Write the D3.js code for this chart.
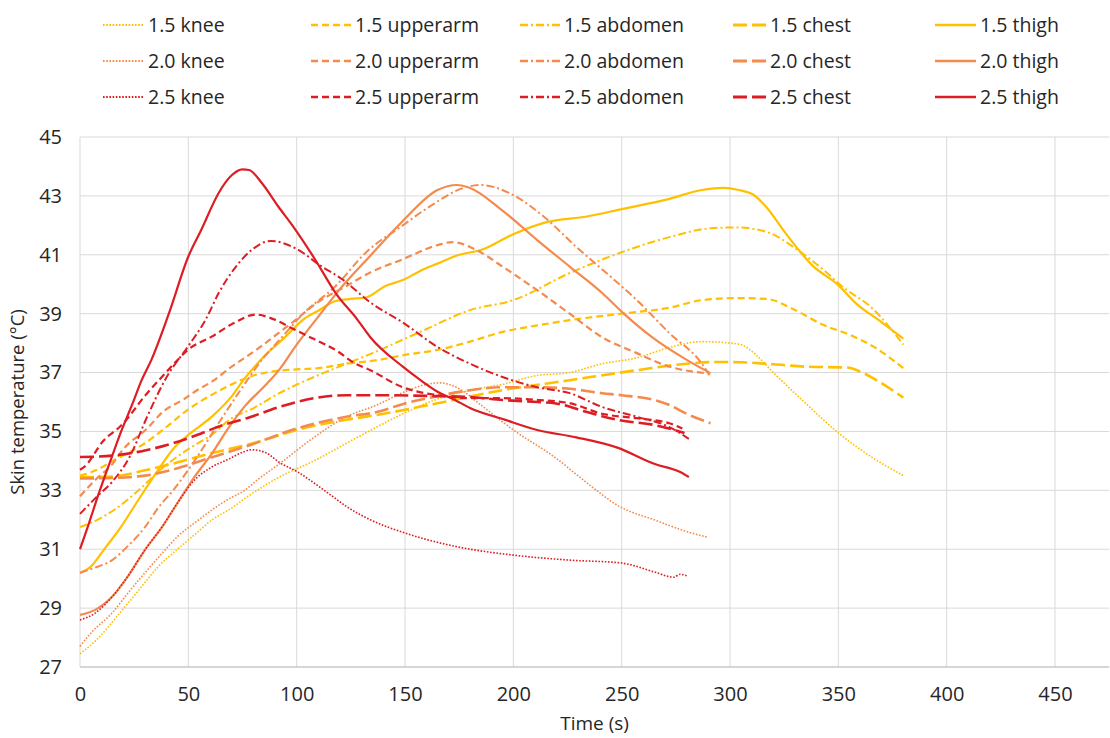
<!DOCTYPE html>
<html>
<head>
<meta charset="utf-8">
<script src="https://cdn.jsdelivr.net/npm/d3@7"></script>
<style>
  html, body { margin: 0; padding: 0; background: #fff; }
  svg { display: block; font-family: "Open Sans", "Noto Sans", sans-serif; }
</style>
</head>
<body>
<svg id="chart" width="1110" height="738"></svg>
<script>
// ---------- data (time s, skin temperature °C) ----------
const knee15 = [[0,27.45],[8,27.95],[18,28.8],[27,29.6],[36,30.4],[45,31.0],[53,31.5],[61,32.0],[70,32.4],[77,32.77],[92,33.45],[108,34.0],[123,34.6],[137,35.15],[149,35.6],[165,36.1],[180,36.4],[195,36.6],[211,36.9],[226,37.0],[241,37.3],[257,37.5],[272,37.85],[287,38.05],[300,38.0],[305,37.95],[312,37.6],[320,37.0],[335,35.95],[350,34.95],[366,34.1],[380,33.5]];
const knee20 = [[0,27.7],[5,28.15],[15,28.85],[22,29.5],[30,30.2],[38,30.87],[45,31.43],[53,31.9],[61,32.34],[68,32.68],[76,33.0],[82,33.36],[92,33.9],[108,34.8],[123,35.5],[137,35.9],[150,36.35],[160,36.6],[166,36.65],[175,36.45],[185,35.9],[200,35.05],[219,34.13],[234,33.25],[249,32.45],[265,32.0],[280,31.6],[290,31.4]];
const knee25 = [[0,28.6],[7,28.83],[15,29.4],[22,30.07],[30,30.98],[38,31.77],[45,32.57],[53,33.36],[61,33.8],[68,34.04],[76,34.32],[79,34.38],[86,34.27],[92,33.95],[101,33.6],[108,33.25],[117,32.77],[123,32.45],[134,32.0],[150,31.55],[173,31.1],[200,30.8],[226,30.63],[250,30.53],[265,30.23],[274,30.05],[277,30.15],[280,30.1]];

const upperarm15 = [[0,33.5],[8,33.7],[15,34.0],[23,34.3],[30,34.6],[39,35.1],[50,35.75],[61,36.25],[70,36.6],[80,36.9],[90,37.05],[98,37.1],[110,37.15],[123,37.3],[137,37.42],[150,37.6],[165,37.77],[180,38.05],[195,38.38],[211,38.6],[226,38.78],[250,39.0],[272,39.2],[287,39.46],[303,39.53],[317,39.5],[329,39.16],[343,38.62],[355,38.29],[366,37.89],[380,37.15]];
const upperarm20 = [[0,32.8],[7,33.35],[15,33.9],[20,34.4],[31,35.1],[38,35.65],[48,36.1],[54,36.4],[61,36.7],[70,37.2],[81,37.75],[90,38.25],[98,38.7],[110,39.4],[123,39.94],[134,40.4],[149,40.85],[165,41.33],[172,41.43],[183,41.16],[195,40.6],[211,39.8],[226,39.0],[241,38.2],[257,37.66],[272,37.2],[289,36.98]];
const upperarm25 = [[0,33.7],[2,33.8],[11,34.7],[19,35.2],[31,36.3],[38,36.87],[46,37.5],[50,37.78],[61,38.23],[71,38.68],[81,38.97],[88,38.85],[98,38.5],[107,38.17],[119,37.72],[126,37.35],[134,37.08],[149,36.5],[165,36.23],[180,36.13],[195,36.13],[211,36.07],[226,35.96],[241,35.6],[257,35.45],[272,35.28],[278,35.1]];

const abdomen15 = [[0,31.75],[8,32.0],[17,32.4],[27,33.0],[38,33.75],[50,34.4],[61,34.9],[70,35.45],[79,35.75],[92,36.3],[108,36.85],[123,37.3],[135,37.66],[157,38.38],[180,39.12],[200,39.46],[226,40.38],[249,41.06],[272,41.6],[291,41.9],[303,41.93],[318,41.75],[331,41.17],[345,40.37],[351,39.97],[366,39.16],[380,37.95]];
const abdomen20 = [[0,30.2],[6,30.35],[15,30.64],[22,31.1],[30,31.75],[36,32.4],[43,33.0],[54,34.13],[65,35.4],[74,36.4],[85,37.53],[92,38.1],[103,39.0],[118,39.94],[132,41.08],[149,42.0],[161,42.62],[177,43.27],[185,43.37],[198,43.1],[214,42.3],[229,41.27],[245,40.25],[257,39.46],[272,38.34],[287,37.3],[291,36.85]];
const abdomen25 = [[0,32.2],[8,32.8],[15,33.3],[23,34.15],[31,35.5],[40,36.85],[50,37.9],[58,38.8],[64,39.7],[72,40.6],[79,41.15],[88,41.47],[100,41.2],[111,40.63],[121,40.17],[134,39.38],[149,38.7],[165,37.87],[180,37.3],[195,36.85],[211,36.5],[226,36.3],[241,35.83],[257,35.5],[272,35.15],[281,34.75]];

const chest15 = [[0,33.45],[15,33.47],[30,33.68],[45,33.95],[60,34.25],[79,34.58],[100,35.05],[123,35.4],[137,35.56],[165,35.96],[195,36.4],[226,36.74],[257,37.08],[280,37.3],[295,37.36],[305,37.35],[320,37.28],[335,37.2],[354,37.17],[361,37.0],[369,36.68],[380,36.15]];
const chest20 = [[0,33.4],[15,33.42],[30,33.5],[45,33.75],[60,34.1],[79,34.55],[100,35.1],[123,35.5],[137,35.66],[150,35.95],[165,36.2],[180,36.4],[195,36.5],[211,36.5],[226,36.45],[241,36.3],[250,36.23],[265,36.07],[272,35.9],[280,35.6],[291,35.28]];
const chest25 = [[0,34.13],[15,34.18],[31,34.37],[43,34.6],[54,34.88],[66,35.22],[77,35.45],[92,35.83],[108,36.13],[123,36.23],[137,36.23],[165,36.2],[180,36.17],[195,36.07],[211,36.0],[219,35.96],[234,35.66],[249,35.38],[265,35.22],[279,34.95]];

const thigh15 = [[0,30.19],[5,30.41],[11,30.98],[19,31.77],[27,32.68],[35,33.58],[44,34.49],[51,34.94],[61,35.51],[70,36.19],[76,36.8],[85,37.55],[95,38.23],[103,38.8],[110,39.1],[118,39.43],[125,39.5],[132,39.55],[141,39.94],[149,40.14],[157,40.45],[165,40.7],[175,41.0],[185,41.16],[200,41.7],[215,42.1],[234,42.3],[250,42.55],[272,42.9],[287,43.2],[297,43.27],[304,43.2],[311,43.03],[317,42.6],[326,41.7],[338,40.64],[350,39.97],[358,39.36],[369,38.76],[380,38.15]];
const thigh20 = [[0,28.77],[7,28.94],[15,29.4],[22,30.07],[30,30.98],[38,31.77],[45,32.57],[53,33.47],[61,34.26],[68,35.06],[76,35.85],[86,36.6],[92,37.1],[100,37.95],[110,38.9],[119,39.75],[134,40.97],[149,42.15],[165,43.2],[174,43.37],[180,43.27],[195,42.5],[211,41.5],[226,40.6],[241,39.7],[251,39.0],[264,38.2],[280,37.43],[291,36.98]];
const thigh25 = [[0,31.0],[4,31.85],[8,32.75],[15,34.2],[19,35.0],[24,35.9],[28.5,36.75],[33,37.44],[41,39.0],[50,40.94],[56,41.85],[64,43.1],[70,43.7],[75,43.9],[78,43.88],[84,43.43],[91.5,42.64],[98,42.0],[108,40.9],[118,39.7],[128,38.8],[134,38.2],[149,37.2],[157,36.75],[165,36.35],[173,36.07],[180,35.8],[196,35.4],[211,35.05],[229,34.8],[248,34.45],[265,33.9],[277,33.62],[281,33.45]];

const sites = ["knee", "upperarm", "abdomen", "chest", "thigh"];
const levels = ["1.5", "2.0", "2.5"];
const seriesData = {
  knee: [knee15, knee20, knee25],
  upperarm: [upperarm15, upperarm20, upperarm25],
  abdomen: [abdomen15, abdomen20, abdomen25],
  chest: [chest15, chest20, chest25],
  thigh: [thigh15, thigh20, thigh25]
};
const xTicks = [0, 50, 100, 150, 200, 250, 300, 350, 400, 450];
const yTicks = [27, 29, 31, 33, 35, 37, 39, 41, 43, 45];

// ---------- styles ----------
const levelColor = ["#FFC000", "#F58A4E", "#DC1E24"];
const siteStyle = {
  knee:     { width: 1.6, dash: "1.6 1.6", legLen: 41 },
  upperarm: { width: 2.2, dash: "7 4", legLen: 40 },
  abdomen:  { width: 2.0, dash: "8 3 2 3", legLen: 40 },
  chest:    { width: 2.6, dash: "14 5", legLen: 33 },
  thigh:    { width: 2.2, dash: null, legLen: 41 }
};

// ---------- layout ----------
const svg = d3.select("#chart");
const pL = 80, pT = 137, pB = 667;
const x = d3.scaleLinear().domain([0, 475]).range([pL, pL + 475 * 975 / 450]);
const y = d3.scaleLinear().domain([27, 45]).range([pB, pT]);
const pR = x(475);

// gridlines
const grid = svg.append("g");
grid.selectAll("line.h").data(yTicks).join("line")
  .attr("x1", pL).attr("x2", pR)
  .attr("y1", d => y(d)).attr("y2", d => y(d))
  .attr("stroke", "#D9D9D9").attr("stroke-width", 1);
grid.selectAll("line.v").data(xTicks).join("line")
  .attr("y1", pT).attr("y2", pB)
  .attr("x1", d => x(d)).attr("x2", d => x(d))
  .attr("stroke", "#D9D9D9").attr("stroke-width", 1);
grid.append("line").attr("x1", pL).attr("x2", pR)
  .attr("y1", pB).attr("y2", pB).attr("stroke", "#BFBFBF");

// axes (labels only)
const xAxis = d3.axisBottom(x).tickValues(xTicks).tickSize(0).tickPadding(20);
const gx = svg.append("g").attr("transform", `translate(0,${pB})`).call(xAxis);
gx.select(".domain").remove();
gx.selectAll("text").attr("font-size", 20).attr("fill", "#262626").attr("font-family", '"Open Sans", sans-serif');

const yAxis = d3.axisLeft(y).tickValues(yTicks).tickSize(0).tickPadding(18);
const gy = svg.append("g").attr("transform", `translate(${pL},0)`).call(yAxis);
gy.select(".domain").remove();
gy.selectAll("text").attr("font-size", 20).attr("fill", "#262626").attr("font-family", '"Open Sans", sans-serif');

svg.append("text").attr("x", (pL + pR) / 2).attr("y", 730)
  .attr("text-anchor", "middle").attr("font-size", 19).attr("fill", "#262626")
  .text("Time (s)");
svg.append("text").attr("transform", `translate(24,${(pT + pB) / 2}) rotate(-90)`)
  .attr("text-anchor", "middle").attr("font-size", 18.5).attr("fill", "#262626")
  .text("Skin temperature (°C)");

// lines
const line = d3.line().x(d => x(d[0])).y(d => y(d[1])).curve(d3.curveMonotoneX);
const gl = svg.append("g");
levels.forEach((lv, li) => {
  sites.forEach(s => {
    const st = siteStyle[s];
    gl.append("path").datum(seriesData[s][li])
      .attr("d", line)
      .attr("fill", "none")
      .attr("stroke", levelColor[li])
      .attr("stroke-width", st.width)
      .attr("stroke-dasharray", st.dash)
      .attr("stroke-linejoin", "round");
  });
});

// legend
const legTextX = [148, 355, 564, 770, 980];
const legY = [25, 61, 97];
const gLeg = svg.append("g");
levels.forEach((lv, li) => {
  sites.forEach((s, si) => {
    const st = siteStyle[s];
    const tx = legTextX[si], y0 = legY[li];
    gLeg.append("line").attr("x1", tx - 4 - st.legLen).attr("x2", tx - 4)
      .attr("y1", y0).attr("y2", y0)
      .attr("stroke", levelColor[li]).attr("stroke-width", st.width + 0.4)
      .attr("stroke-dasharray", st.dash);
    gLeg.append("text").attr("x", tx).attr("y", y0).attr("dy", "0.35em")
      .attr("font-size", 19.5).attr("fill", "#262626")
      .text(`${lv} ${s}`);
  });
});
</script>
</body>
</html>
